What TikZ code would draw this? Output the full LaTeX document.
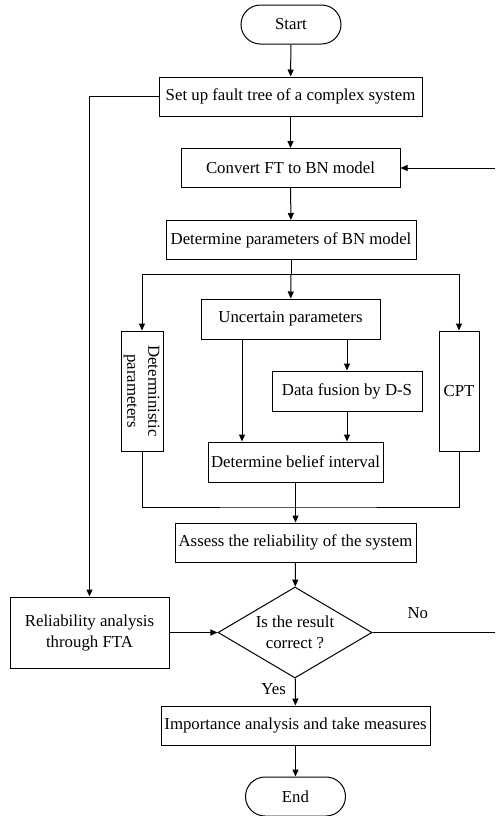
\documentclass[tikz,border=0pt]{standalone}
\usepackage{fontspec}
\setmainfont{Liberation Serif}
\usetikzlibrary{shapes,arrows.meta,positioning}

\begin{document}
\begin{tikzpicture}[x=.5pt,y=-.5pt,line width=.5pt,
    every node/.append style={font=\fontsize{8.4}{10.5}\selectfont,
                              align=center,inner sep=0pt},
    box/.style={draw,rectangle,minimum width=#1,minimum height=19.5pt},
    term/.style={draw,rectangle,rounded corners=9.75pt,minimum width=50pt,
                 minimum height=19.5pt},
    tall/.style={draw,rectangle,minimum width=20pt,minimum height=60pt},
    decision/.style={draw,diamond,aspect=1.7,minimum width=77pt,
                     minimum height=45.5pt},
    arr/.style={-{Triangle[length=3.5pt,width=3pt]}}]
    \useasboundingbox (0,0) rectangle (495,816);

    \node[term] (start) at (291,24.5) {Start};
    \node[box=131.5pt] (setup) at (290.5,96.5) {Set up fault tree of a complex system};
    \node[box=109.5pt] (convert) at (290.5,168) {Convert FT to BN model};
    \node[box=125pt] (params) at (291,240) {Determine parameters of BN model};
    \node[box=89.5pt,minimum height=20pt] (uncert) at (290.5,319) {Uncertain parameters};
    \node[tall] (determ) at (142,391)
        {\rotatebox{-90}{\begin{tabular}{@{}c@{}}Deterministic\\parameters\end{tabular}}};
    \node[tall] (cpt) at (459,391) {CPT};
    \node[box=75pt,minimum height=20pt] (fusion) at (347,391) {Data fusion by D-S};
    \node[box=87.5pt,minimum height=20pt] (belief) at (295.5,462) {Determine belief interval};
    \node[box=120.5pt] (assess) at (295.5,542.5) {Assess the reliability of the system};
    \node[decision] (decide) at (295,632.5) {Is the result\\correct ?};
    \node[box=79.5pt,minimum height=35.5pt] (fta) at (89.5,632.5)
        {Reliability analysis\\through FTA};
    \node[box=134.5pt] (measures) at (295.5,725.5) {Importance analysis and take measures};
    \node[term] (finish) at (295.5,796.5) {End};

    \coordinate (split) at (291,274);
    \coordinate (leftdrop) at (242,339);
    \coordinate (join) at (296,507);
    \coordinate (noend) at (495,632.5);
    \coordinate (back) at (495,168);

    \draw[arr] (start) -- (setup);
    \draw[arr] (setup) -- (convert);
    \draw[arr] (convert) -- (params);
    \draw (params) -- (split);
    \draw[arr] (split) -- (uncert);
    \draw[arr] (split) -| (determ);
    \draw[arr] (split) -| (cpt);
    \draw[arr] (uncert.south -| leftdrop) -- (belief.north -| leftdrop);
    \draw[arr] (uncert.south -| fusion) -- (fusion);
    \draw[arr] (fusion) -- (belief.north -| fusion);
    \draw (determ) |- (join) -| (cpt);
    \draw[arr] (belief) -- (assess);
    \draw[arr] (assess) -- (decide);
    \draw[arr] (decide) -- node[left=4.5pt,pos=.4] {Yes} (measures);
    \draw[arr] (measures) -- (finish);
    \draw[arr] (setup) -| (fta);
    \draw[arr] (fta) -- (decide);
    \draw (decide) -- node[above=6.5pt,pos=.37] {No} (noend);
    \draw[arr] (back) -- (convert);
\end{tikzpicture}
\end{document}
